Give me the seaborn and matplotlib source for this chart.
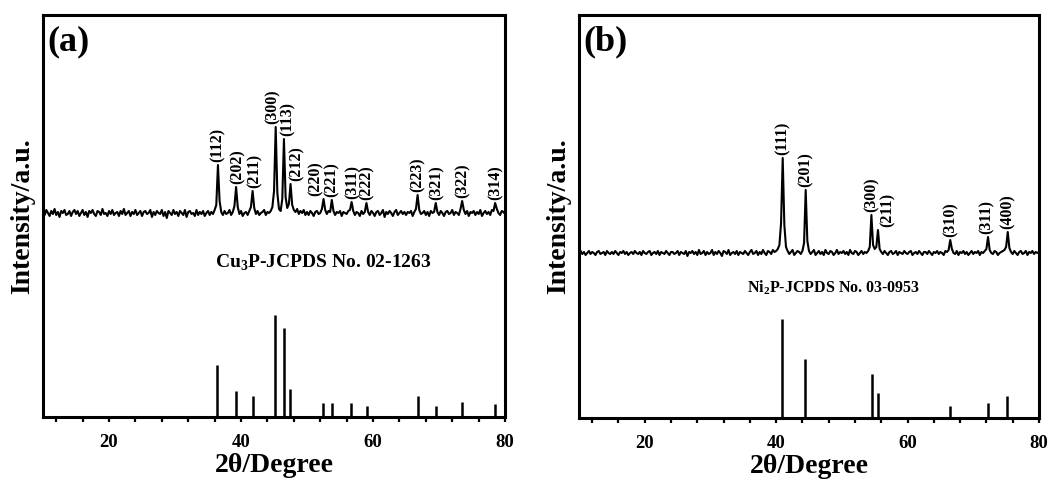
import numpy as np
import pandas as pd
import matplotlib
matplotlib.use("Agg")
import matplotlib.pyplot as plt
import seaborn as sns
from matplotlib.ticker import MultipleLocator, NullLocator

# ---------------- data ----------------
# scan grid: 2theta from 10 to 80 deg, step 0.25
two_theta = np.arange(10.0, 80.0001, 0.25)

# (a) Cu3P measured pattern (relative intensity above baseline)
cu3p_intensity = [
    1, -2, 3, 0, -3, 2, -1, 4, -2, 1, -4, 2, 0, 3, -2, -1, 2, -3, 1, 3,
    -1, 2, -3, 0, 3, -2, 1, -4, 2, 0, 3, -1, -3, 2, 1, -2, 4, -1, 0, -3,
    2, -1, 3, -2, 0, 1, -3, 2, -1, 4, -2, 0, 2, -3, 1, -1, 3, -2, 0, 2,
    -3, 1, 2, -1, 0, 3, -4, 1, -2, 2, 0, -1, 3, -3, 1, -5, 2, 0, -2, 3,
    -1, 1, -3, 2, 0, -2, 3, -4, 1, 2, -1, 0, -3, 3, -2, 1, -1, 2, -3, 0,
    2, -2, 1, -1, 3, 8, 48, 12, 1, -2, 2, -1, 0, 3, -2, 1, 7, 26, 6, -1,
    2, -3, 0, 1, -2, 2, 6, 22, 5, -1, 2, -2, 0, 1, 3, -2, 1, 0, 2, 6,
    22, 86, 20, 4, 2, 14, 74, 16, 5, 9, 29, 8, 3, 1, 4, -1, 2, 0, 3, -2,
    1, -2, 2, 0, -3, 1, 2, -1, 0, 4, 14, 3, -1, 2, 1, 13, 2, -2, 1, 0,
    2, -3, 1, 0, -1, 2, 3, 11, 2, -2, 1, 0, -3, 2, -1, 1, 10, 1, -2, 2,
    0, -3, 1, 2, -2, 0, 3, -4, 1, -1, 2, 0, -3, 1, 3, -2, 0, 2, -1, 1,
    -2, 1, 0, 2, -3, 1, 4, 18, 3, -1, 0, 2, -2, 1, -3, 2, 0, 1, 10, 1,
    -2, 2, 0, -3, 1, 2, -1, 0, 3, -2, 1, 0, -2, 4, 12, 3, -1, 2, -3, 1,
    0, 2, -2, 1, -1, 3, -3, 0, 2, -1, 1, -2, 3, 2, 10, 4, 0, -2, 2, 1,
    -1,
]
cu3p_peak_pos = [36.5, 39.25, 41.75, 45.25, 46.5, 47.5, 52.5, 53.75, 56.75,
                 59.0, 66.75, 69.5, 73.5, 78.5]
cu3p_hkl = ["(112)", "(202)", "(211)", "(300)", "(113)", "(212)", "(220)",
            "(221)", "(311)", "(222)", "(223)", "(321)", "(322)", "(314)"]
# JCPDS 02-1263 reference lines
cu3p_ref_pos = [36.4, 39.3, 41.8, 45.2, 46.5, 47.4, 52.4, 53.8, 56.7, 59.1,
                66.8, 69.6, 73.5, 78.4]
cu3p_ref_int = [52, 26, 21, 102, 89, 28, 14, 14, 14, 11, 21, 11, 15, 13]

# (b) Ni2P measured pattern
ni2p_intensity = [
    0, 2, -1, 1, -2, 0, 2, -1, 1, 0, -2, 1, 2, -1, 0, 1, -2, 2, 0, -1,
    1, -1, 2, 0, -2, 1, 0, 2, -1, 1, -2, 0, 1, -1, 2, 0, -1, 1, -2, 2,
    0, -1, 1, 2, -2, 0, 1, -1, 2, -2, 1, 0, -1, 2, 0, -2, 1, 1, -1, 0,
    2, -2, 1, 0, -1, 2, -3, 1, 0, 2, -1, 1, -2, 3, -1, 0, 2, -2, 1, -1,
    0, 3, -2, 1, -1, 2, 0, -3, 2, 1, -1, 3, -2, 0, 1, -1, 2, -2, 1, 0,
    -1, 2, 0, -2, 1, 3, -1, 0, 2, -2, 1, -1, 3, 0, -2, 2, 1, -1, 3, 1,
    2, 4, 8, 30, 95, 28, 6, 2, -1, 1, 3, -2, 0, 2, 1, -1, 2, 10, 63, 12,
    2, -1, 1, 3, -2, 0, 2, -1, 1, -2, 3, 0, -1, 2, 1, -2, 0, 3, -1, 1,
    0, 2, -1, 1, -2, 3, 0, -1, 2, 1, -2, 0, 2, -1, 1, 0, 2, 6, 38, 8,
    4, 6, 23, 4, 1, -1, 2, 0, -2, 1, 2, -1, 0, 2, -2, 1, 0, -1, 2, 0,
    -1, 1, 2, -2, 0, 1, -1, 2, 0, -2, 1, 1, -1, 2, 0, -2, 1, 0, 2, -1,
    1, 0, -2, 2, 1, 3, 13, 4, 0, -1, 2, -2, 1, 0, 2, -1, 1, -2, 0, 2,
    -1, 1, 0, 2, -2, 1, 0, 2, 4, 16, 3, 0, -1, 2, 1, -2, 0, 1, 2, 3,
    6, 21, 5, 1, -1, 2, 0, -2, 1, 2, -1, 0, 2, -2, 1, 0, 2, -1, 1, 0,
    1,
]
ni2p_peak_pos = [41.0, 44.5, 54.5, 55.5, 66.5, 72.25, 75.25]
ni2p_hkl = ["(111)", "(201)", "(300)", "(211)", "(310)", "(311)", "(400)"]
# JCPDS 03-0953 reference lines
ni2p_ref_pos = [40.9, 44.4, 54.6, 55.5, 66.4, 72.3, 75.2]
ni2p_ref_int = [99, 59, 44, 25, 12, 15, 22]

# ---------------- styling ----------------
sns.set_theme(style="white")
SERIF = ["Liberation Serif", "DejaVu Serif"]
plt.rcParams["font.family"] = SERIF
plt.rcParams["font.weight"] = "bold"
plt.rcParams["text.color"] = "black"
plt.rcParams["axes.labelcolor"] = "black"
plt.rcParams["xtick.color"] = "black"
plt.rcParams["ytick.color"] = "black"
plt.rcParams["mathtext.fontset"] = "custom"
plt.rcParams["mathtext.rm"] = "Liberation Serif:bold"
plt.rcParams["mathtext.bf"] = "Liberation Serif:bold"

fig = plt.figure(figsize=(10.52, 4.82), dpi=100)
ax_a = fig.add_axes([0.0409, 0.1349, 0.4392, 0.8340])
ax_b = fig.add_axes([0.5504, 0.1328, 0.4372, 0.8361])


def draw_panel(ax, inten, peak_pos, hkl, label_dx, ref_pos, ref_int,
               offset, ymax, tag, ref_text, ref_xy, ref_fs):
    df = pd.DataFrame({"2theta": two_theta,
                       "I": np.asarray(inten, dtype=float) + offset})
    sns.lineplot(data=df, x="2theta", y="I", ax=ax, color="black",
                 linewidth=1.5, estimator=None, sort=False)
    ax.vlines(ref_pos, 0, ref_int, color="black", linewidth=1.8)
    for p, h, dx in zip(peak_pos, hkl, label_dx):
        idx = int(round((p - 10.0) / 0.25))
        top = inten[idx] + offset
        ax.text(p + dx, top + 3, h, rotation=90, ha="center", va="bottom",
                fontsize=11.5, fontweight="bold", family=SERIF,
                color="black")
    ax.text(ref_xy[0], ref_xy[1], ref_text, ha="center", va="center",
            fontsize=ref_fs, fontweight="bold", family=SERIF, color="black")
    ax.text(0.01, 0.975, tag, transform=ax.transAxes, ha="left", va="top",
            fontsize=26, fontweight="bold", family=SERIF, color="black")
    ax.set_xlim(10, 80)
    ax.set_ylim(0, ymax)
    ax.xaxis.set_major_locator(MultipleLocator(20))
    ax.xaxis.set_minor_locator(MultipleLocator(4))
    ax.yaxis.set_major_locator(NullLocator())
    ax.tick_params(axis="x", which="both", direction="out", length=3.5,
                   width=1.6, bottom=True, labelsize=13.5, pad=9,
                   colors="black")
    for lab in ax.get_xticklabels():
        lab.set_fontweight("bold")
    for s in ax.spines.values():
        s.set_linewidth(2.2)
        s.set_color("black")
    ax.set_xlabel("2θ/Degree", fontsize=20, fontweight="bold", labelpad=1,
                  color="black")
    ax.set_ylabel("Intensity/a.u.", fontsize=20, fontweight="bold",
                  labelpad=6, color="black")


draw_panel(ax_a, cu3p_intensity, cu3p_peak_pos, cu3p_hkl,
           [0, 0.3, 0.3, -0.4, 0.6, 0.9, -1.2, 0, 0.1, 0, 0, 0.2, 0, 0.1],
           cu3p_ref_pos, cu3p_ref_int, 204, 402, "(a)",
           r"Cu$_\mathregular{3}$P-JCPDS No. 02-1263", (52.4, 154), 14)
draw_panel(ax_b, ni2p_intensity, ni2p_peak_pos, ni2p_hkl,
           [0, 0, 0.0, 1.5, 0, -0.2, 0],
           ni2p_ref_pos, ni2p_ref_int, 165, 403, "(b)",
           r"Ni$_\mathregular{2}$P-JCPDS No. 03-0953", (48.8, 130), 11.5)

fig.savefig("out.png", dpi=100)
